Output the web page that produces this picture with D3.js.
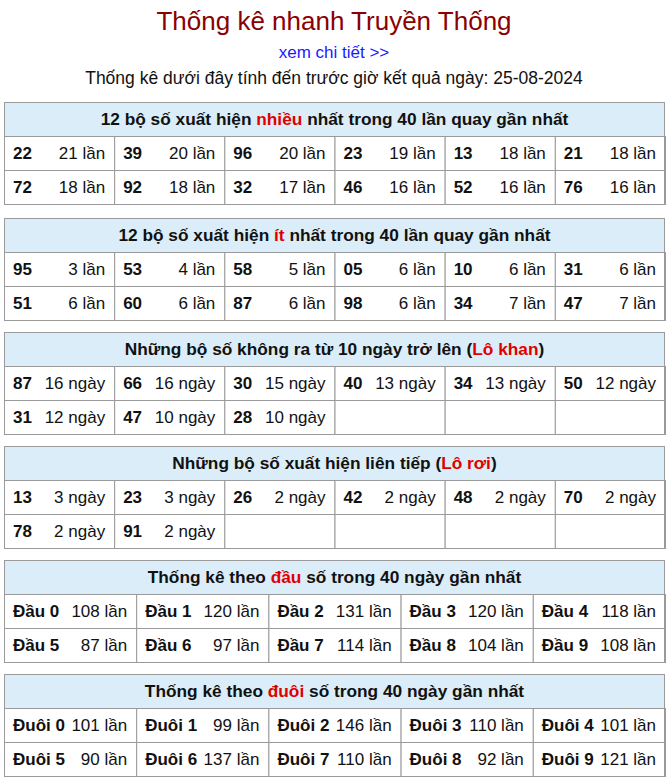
<!DOCTYPE html>
<html><head><meta charset="utf-8">
<script src="https://cdn.jsdelivr.net/npm/d3@7"></script>
<style>body{margin:0;background:#fff;font-family:"Liberation Sans",Arial,sans-serif}</style>
</head><body><svg id="c" width="669" height="779"></svg>
<script>
const title = "Thống kê nhanh Truyền Thống";
const linkText = "xem chi tiết >>";
const subtitle = "Thống kê dưới đây tính đến trước giờ kết quả ngày: 25-08-2024";

const t1Nums = ["22","39","96","23","13","21","72","92","32","46","52","76"];
const t1Vals = ["21 lần","20 lần","20 lần","19 lần","18 lần","18 lần","18 lần","18 lần","17 lần","16 lần","16 lần","16 lần"];
const t2Nums = ["95","53","58","05","10","31","51","60","87","98","34","47"];
const t2Vals = ["3 lần","4 lần","5 lần","6 lần","6 lần","6 lần","6 lần","6 lần","6 lần","6 lần","7 lần","7 lần"];
const t3Nums = ["87","66","30","40","34","50","31","47","28"];
const t3Vals = ["16 ngày","16 ngày","15 ngày","13 ngày","13 ngày","12 ngày","12 ngày","10 ngày","10 ngày"];
const t4Nums = ["13","23","26","42","48","70","78","91"];
const t4Vals = ["3 ngày","3 ngày","2 ngày","2 ngày","2 ngày","2 ngày","2 ngày","2 ngày"];
const t5Nums = ["Đầu 0","Đầu 1","Đầu 2","Đầu 3","Đầu 4","Đầu 5","Đầu 6","Đầu 7","Đầu 8","Đầu 9"];
const t5Vals = ["108 lần","120 lần","131 lần","120 lần","118 lần","87 lần","97 lần","114 lần","104 lần","108 lần"];
const t6Nums = ["Đuôi 0","Đuôi 1","Đuôi 2","Đuôi 3","Đuôi 4","Đuôi 5","Đuôi 6","Đuôi 7","Đuôi 8","Đuôi 9"];
const t6Vals = ["101 lần","99 lần","146 lần","110 lần","101 lần","90 lần","137 lần","110 lần","92 lần","121 lần"];

const tables = [
  {y:102, head:[["12 bộ số xuất hiện ",0],["nhiều",1],[" nhất trong 40 lần quay gần nhất",0]], nums:t1Nums, vals:t1Vals, cols:6},
  {y:218, head:[["12 bộ số xuất hiện ",0],["ít",1],[" nhất trong 40 lần quay gần nhất",0]], nums:t2Nums, vals:t2Vals, cols:6},
  {y:332, head:[["Những bộ số không ra từ 10 ngày trở lên (",0],["Lô khan",1],[")",0]], nums:t3Nums, vals:t3Vals, cols:6},
  {y:446, head:[["Những bộ số xuất hiện liên tiếp (",0],["Lô rơi",1],[")",0]], nums:t4Nums, vals:t4Vals, cols:6},
  {y:560, head:[["Thống kê theo ",0],["đầu",1],[" số trong 40 ngày gần nhất",0]], nums:t5Nums, vals:t5Vals, cols:5},
  {y:674, head:[["Thống kê theo ",0],["đuôi",1],[" số trong 40 ngày gần nhất",0]], nums:t6Nums, vals:t6Vals, cols:5}
];

const svg = d3.select("#c");
svg.append("text").attr("x",334).attr("y",30).attr("text-anchor","middle").attr("font-size",26).attr("fill","#8b0000").text(title);
svg.append("text").attr("x",334).attr("y",58).attr("text-anchor","middle").attr("font-size",17).attr("fill","#1a1aff").text(linkText);
svg.append("text").attr("x",334).attr("y",84).attr("text-anchor","middle").attr("font-size",17.5).attr("fill","#111").text(subtitle);

const x0 = 4, x1 = 665, hH = 34, rH = 34;
tables.forEach(t => {
  const g = svg.append("g");
  const rows = 2;
  const x = d3.scaleLinear().domain([0,t.cols]).range([x0,x1]);
  g.append("rect").attr("x",x0+.5).attr("y",t.y+.5).attr("width",x1-x0-1).attr("height",hH).attr("fill","#dbedf8").attr("stroke","#9a9a9a");
  const ht = g.append("text").attr("x",(x0+x1)/2).attr("y",t.y+hH/2+6).attr("text-anchor","middle").attr("font-size",17.3).attr("font-weight","bold").attr("fill","#111");
  t.head.forEach(([s,r]) => ht.append("tspan").attr("fill", r ? "#e00000" : "#111").text(s));
  for (let r=0;r<rows;r++){
    for (let c=0;c<t.cols;c++){
      const i = r*t.cols+c;
      const cx = x(c), cy = t.y+hH+r*rH;
      g.append("rect").attr("x",cx+.5).attr("y",cy+.5).attr("width",x(c+1)-cx).attr("height",rH).attr("fill","#fff").attr("stroke","#9a9a9a");
      if (i < t.nums.length){
        g.append("text").attr("x",cx+9).attr("y",cy+rH/2+6).attr("font-size",17).attr("font-weight","bold").attr("fill","#111").text(t.nums[i]);
        g.append("text").attr("x",x(c+1)-9).attr("y",cy+rH/2+6).attr("text-anchor","end").attr("font-size",17).attr("fill","#111").text(t.vals[i]);
      }
    }
  }
  g.append("rect").attr("x",x0+.5).attr("y",t.y+.5).attr("width",x1-x0-1).attr("height",hH+rows*rH).attr("fill","none").attr("stroke","#9a9a9a");
});
</script></body></html>
